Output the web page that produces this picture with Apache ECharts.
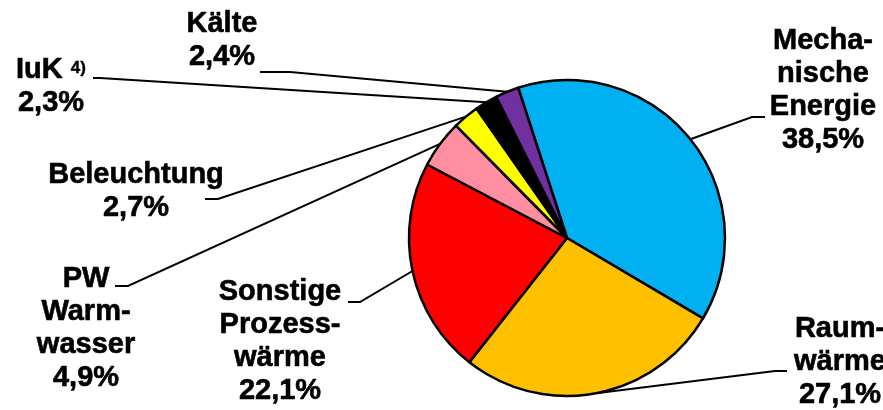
<!DOCTYPE html>
<html>
<head>
<meta charset="utf-8">
<script src="https://cdn.jsdelivr.net/npm/echarts@6/dist/echarts.min.js"></script>
<style>
  html, body { margin: 0; padding: 0; background: #fff; }
  #chart { width: 883px; height: 410px; }
</style>
</head>
<body>
<div id="chart"></div>
<script>
// Anteile am Endenergieverbrauch (im Uhrzeigersinn ab Mechanische Energie)
const categories = ['Mecha-\nnische\nEnergie', 'Raum-\nwärme', 'Sonstige\nProzess-\nwärme', 'PW\nWarm-\nwasser', 'Beleuchtung', 'IuK', 'Kälte']
const shares = [38.5, 27.1, 22.1, 4.9, 2.7, 2.3, 2.4]
const colors = ['#00B0F0', '#FFC000', '#FF0000', '#FF8FA0', '#FFFF00', '#000000', '#7030A0']

// Position der Beschriftungen (Mitte des Textblocks) und Knick der Führungslinie
const labelSpots = [
  { x: 823, y: 90, knee: [752, 117], end: [765, 117] },
  { x: 840, y: 362, knee: [775, 371], end: [787, 371] },
  { x: 280, y: 341, knee: [360, 302], end: [348, 302] },
  { x: 86, y: 328, knee: [128, 286], end: [115, 286] },
  { x: 136, y: 191, knee: [218, 199], end: [205, 199] },
  { x: 51, y: 86, knee: [100, 78], end: [93, 78] },
  { x: 222, y: 40, knee: [290, 72], end: [260, 72] }
]

const chart = echarts.init(document.getElementById('chart'))

const fmtPct = v => v.toFixed(1).replace('.', ',') + '%'
const font = 'Liberation Sans, Arial, sans-serif'

chart.setOption({
  backgroundColor: '#ffffff',
  animation: false,
  series: [{
    type: 'pie',
    center: [567, 238],
    radius: 158,
    startAngle: 108,
    clockwise: true,
    avoidLabelOverlap: false,
    itemStyle: { borderColor: '#000', borderWidth: 2.5 },
    label: {
      show: true,
      position: 'outside',
      color: '#000',
      fontFamily: font,
      fontWeight: 'bold',
      fontSize: 29,
      lineHeight: 33,
      align: 'center',
      formatter: p => {
        if (p.name === 'IuK') {
          return '{b|IuK }{s|4)}\n{b|' + fmtPct(p.value) + '}'
        }
        return p.name.split('\n').concat(fmtPct(p.value)).map(t => '{b|' + t + '}').join('\n')
      },
      rich: {
        b: { fontSize: 29, fontWeight: 'bold', lineHeight: 33, fontFamily: font, color: '#000', textBorderColor: '#000', textBorderWidth: 0.6 },
        s: { fontSize: 17, fontWeight: 'bold', lineHeight: 33, verticalAlign: 'top', padding: [7, 0, 0, 0], fontFamily: font, color: '#000', textBorderColor: '#000', textBorderWidth: 0.4 }
      }
    },
    labelLine: {
      show: true,
      length: 10,
      length2: 10,
      lineStyle: { color: '#000', width: 2 }
    },
    labelLayout: params => {
      const spot = labelSpots[params.dataIndex]
      const start = params.labelLinePoints ? params.labelLinePoints[0] : spot.knee
      return {
        x: spot.x,
        y: spot.y,
        align: 'center',
        verticalAlign: 'middle',
        labelLinePoints: [start, spot.knee, spot.end]
      }
    },
    data: categories.map((name, i) => ({
      name: name,
      value: shares[i],
      itemStyle: { color: colors[i] }
    }))
  }]
})
</script>
</body>
</html>
